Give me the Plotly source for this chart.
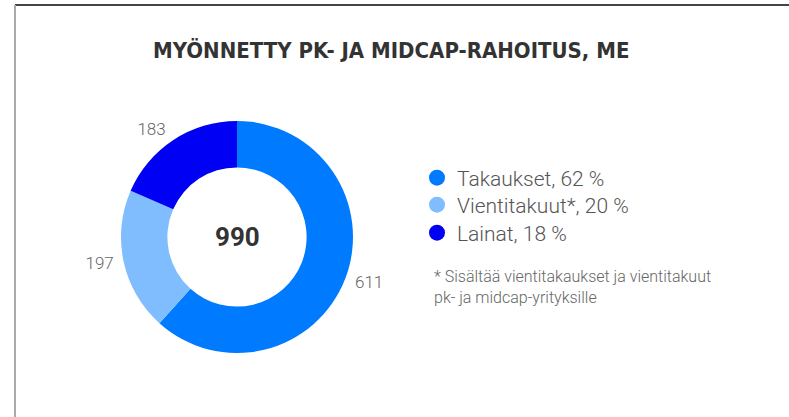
import plotly.graph_objects as go

# Data
categories = ["Takaukset", "Vientitakuut*", "Lainat"]
values = [611, 197, 183]
legend_labels = ["Takaukset, 62 %", "Vientitakuut*, 20 %", "Lainat, 18 %"]
total_label = "990"
title_text = "MYÖNNETTY PK- JA MIDCAP-RAHOITUS, ME"
note_text = "* Sisältää vientitakaukset ja vientitakuut<br>pk- ja midcap-yrityksille"
colors = ["#007BFF", "#80BDFF", "#0000F5"]

W, H = 789, 417

def px(x):
    return x / W

def py(y):
    return 1 - y / H

fig = go.Figure()

# transparent, slightly larger copy of the ring that carries the value labels
fig.add_trace(go.Pie(
    labels=categories,
    values=values,
    hole=0.6,
    sort=False,
    direction="clockwise",
    rotation=0,
    marker=dict(colors=["rgba(0,0,0,0)"] * len(values), line=dict(width=0)),
    textposition="outside",
    texttemplate="%{value}",
    textfont=dict(family="Roboto", size=17, color="#666666", weight=300),
    domain=dict(x=[px(116), px(358)], y=[py(358), py(116)]),
    showlegend=False,
    hoverinfo="skip",
))

fig.add_trace(go.Pie(
    labels=categories,
    values=values,
    hole=0.6,
    sort=False,
    direction="clockwise",
    rotation=0,
    marker=dict(colors=colors, line=dict(width=0)),
    textinfo="none",
    domain=dict(x=[px(121), px(353)], y=[py(353), py(121)]),
    showlegend=False,
    hoverinfo="label+value",
))

legend_names = ["legend", "legend2", "legend3"]
legend_rows = [178, 205, 233]
for lab, col, lg in zip(legend_labels, colors, legend_names):
    fig.add_trace(go.Scatter(
        x=[None], y=[None], mode="markers",
        marker=dict(symbol="circle", size=16, color=col),
        name=lab, showlegend=True, legend=lg,
    ))

legend_common = dict(
    xanchor="left", yanchor="middle",
    font=dict(family="Roboto", size=21, color="#555555", weight=300),
    bgcolor="rgba(0,0,0,0)",
    itemsizing="trace",
)

fig.update_layout(
    width=W, height=H,
    margin=dict(l=0, r=0, t=0, b=0),
    paper_bgcolor="white",
    plot_bgcolor="white",
    xaxis=dict(visible=False),
    yaxis=dict(visible=False),
    legend=dict(x=px(417), y=py(legend_rows[0]), **legend_common),
    legend2=dict(x=px(417), y=py(legend_rows[1]), **legend_common),
    legend3=dict(x=px(417), y=py(legend_rows[2]), **legend_common),
    annotations=[
        dict(text=title_text, x=px(391), y=py(50), xref="paper", yref="paper",
             xanchor="center", yanchor="middle", showarrow=False,
             font=dict(family="DejaVu Sans Condensed", size=22, color="#333333", weight="bold")),
        dict(text="<b>" + total_label + "</b>", x=px(237), y=py(237), xref="paper", yref="paper",
             xanchor="center", yanchor="middle", showarrow=False,
             font=dict(family="Roboto", size=26, color="#333333")),
        dict(text=note_text, x=px(432), y=py(265), xref="paper", yref="paper",
             xanchor="left", yanchor="top", align="left", showarrow=False,
             font=dict(family="Roboto", size=16, color="#666666", weight=300)),
    ],
    shapes=[
        dict(type="line", xref="paper", yref="paper", x0=px(15), x1=1, y0=py(5), y1=py(5),
             line=dict(color="#444444", width=2)),
        dict(type="line", xref="paper", yref="paper", x0=px(15), x1=px(15), y0=0, y1=py(5),
             line=dict(color="#AAAAAA", width=2)),
    ],
)

fig.write_html("out.html", config={"displayModeBar": False},
               post_script="document.body.style.margin='0';document.body.style.overflow='hidden';")
